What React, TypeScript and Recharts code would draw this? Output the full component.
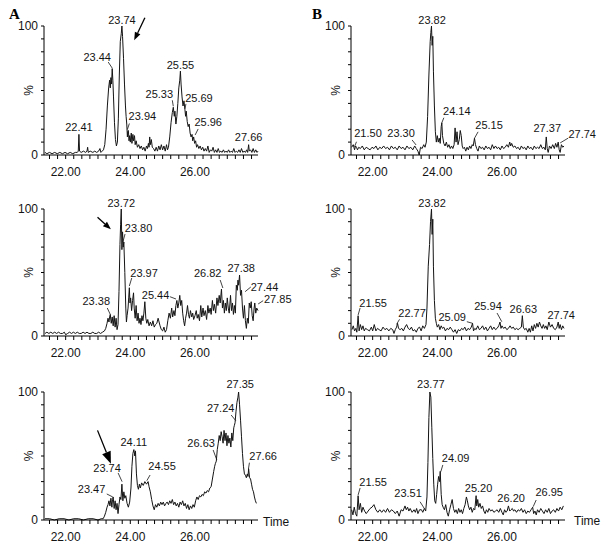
import { LineChart, Line, XAxis, YAxis, ReferenceDot } from 'recharts';

type Pt = [number, number];

const xTicks = [21.5, 21.75, 22, 22.25, 22.5, 22.75, 23, 23.25, 23.5, 23.75, 24, 24.25, 24.5, 24.75, 25, 25.25, 25.5, 25.75, 26, 26.25, 26.5, 26.75, 27, 27.25, 27.5, 27.75];
const xTickLabels = ['22.00', '24.00', '26.00'];
const yTicks = [0, 10, 20, 30, 40, 50, 60, 70, 80, 90, 100];
const yTickValues = [0, 50, 100];
const yTickTexts = ['0', '%', '100'];

// chromatogram traces: [time (min), relative intensity %]
const traceA1: Pt[] = [
  [21.36, 2], [21.42, 1], [21.5, 2], [21.58, 1], [21.66, 2], [21.74, 1], [21.82, 2], [21.9, 1], [21.98, 2], [22.06, 1], [22.14, 2], [22.22, 1], [22.3, 2], [22.36, 2], [22.39, 3], [22.41, 16], [22.43, 3], [22.48, 2], [22.55, 3], [22.62, 2], [22.66, 3], [22.68, 6], [22.7, 2], [22.76, 3], [22.84, 2], [22.9, 3], [22.96, 2], [23.02, 3], [23.06, 5], [23.09, 2], [23.13, 3], [23.17, 4], [23.21, 8], [23.25, 20], [23.29, 38], [23.33, 52], [23.36, 58], [23.38, 52], [23.4, 60], [23.42, 55], [23.44, 67], [23.46, 58], [23.48, 45], [23.51, 25], [23.54, 12], [23.57, 7], [23.6, 10], [23.63, 28], [23.66, 62], [23.69, 88], [23.72, 94], [23.74, 100], [23.76, 92], [23.79, 75], [23.82, 55], [23.85, 38], [23.87, 30], [23.89, 24], [23.91, 14], [23.92, 18], [23.94, 19], [23.96, 11], [23.98, 15], [24.0, 10], [24.03, 17], [24.05, 9], [24.08, 16], [24.1, 11], [24.13, 15], [24.15, 8], [24.18, 11], [24.22, 6], [24.26, 8], [24.3, 5], [24.34, 7], [24.38, 4], [24.42, 6], [24.46, 3], [24.5, 7], [24.53, 5], [24.56, 9], [24.58, 6], [24.6, 14], [24.62, 8], [24.65, 12], [24.68, 6], [24.72, 5], [24.76, 3], [24.8, 6], [24.84, 3], [24.88, 7], [24.92, 4], [24.96, 8], [25.0, 4], [25.04, 7], [25.08, 3], [25.12, 8], [25.15, 4], [25.18, 6], [25.22, 14], [25.26, 25], [25.3, 33], [25.33, 37], [25.36, 30], [25.38, 34], [25.41, 24], [25.44, 30], [25.47, 40], [25.5, 52], [25.53, 58], [25.55, 65], [25.57, 55], [25.6, 45], [25.63, 38], [25.66, 42], [25.69, 35], [25.71, 30], [25.73, 34], [25.76, 26], [25.79, 22], [25.82, 24], [25.85, 17], [25.88, 14], [25.91, 16], [25.93, 11], [25.96, 14], [25.99, 9], [26.02, 11], [26.05, 6], [26.08, 8], [26.12, 5], [26.16, 7], [26.2, 4], [26.24, 6], [26.28, 3], [26.32, 5], [26.36, 3], [26.4, 7], [26.44, 2], [26.48, 4], [26.52, 3], [26.56, 6], [26.6, 2], [26.64, 4], [26.68, 2], [26.72, 5], [26.76, 2], [26.8, 3], [26.84, 2], [26.88, 4], [26.92, 2], [26.96, 3], [27.0, 2], [27.04, 4], [27.08, 2], [27.12, 3], [27.16, 2], [27.2, 5], [27.24, 2], [27.28, 3], [27.32, 2], [27.36, 4], [27.4, 2], [27.44, 5], [27.48, 2], [27.52, 3], [27.56, 2], [27.6, 4], [27.63, 2], [27.66, 8], [27.68, 3], [27.72, 4], [27.76, 2], [27.8, 5], [27.84, 2], [27.88, 4], [27.92, 2], [27.95, 3],
];

const traceB1: Pt[] = [
  [21.35, 6], [21.4, 8], [21.44, 4], [21.47, 7], [21.5, 6], [21.53, 4], [21.57, 6], [21.62, 5], [21.68, 7], [21.74, 4], [21.8, 6], [21.86, 5], [21.92, 4], [21.98, 6], [22.04, 5], [22.1, 7], [22.16, 4], [22.22, 6], [22.28, 5], [22.34, 7], [22.4, 5], [22.46, 6], [22.52, 4], [22.58, 7], [22.64, 5], [22.7, 6], [22.76, 4], [22.82, 7], [22.88, 5], [22.94, 6], [23.0, 4], [23.06, 7], [23.12, 5], [23.18, 6], [23.24, 4], [23.3, 7], [23.35, 5], [23.4, 3], [23.44, 0], [23.48, 6], [23.53, 5], [23.58, 8], [23.62, 6], [23.66, 10], [23.7, 30], [23.74, 62], [23.78, 88], [23.8, 95], [23.82, 100], [23.84, 85], [23.86, 92], [23.88, 65], [23.91, 38], [23.94, 18], [23.97, 10], [24.0, 15], [24.03, 10], [24.06, 13], [24.09, 9], [24.12, 22], [24.14, 25], [24.16, 15], [24.2, 9], [24.24, 7], [24.28, 10], [24.32, 6], [24.36, 8], [24.4, 5], [24.44, 7], [24.48, 5], [24.52, 8], [24.55, 21], [24.58, 10], [24.61, 18], [24.64, 8], [24.68, 12], [24.71, 19], [24.74, 15], [24.77, 7], [24.8, 5], [24.84, 6], [24.88, 3], [24.92, 6], [24.96, 4], [25.0, 7], [25.04, 5], [25.08, 8], [25.11, 7], [25.15, 13], [25.18, 8], [25.22, 5], [25.26, 3], [25.3, 7], [25.35, 5], [25.4, 6], [25.45, 4], [25.5, 7], [25.55, 5], [25.6, 6], [25.65, 4], [25.7, 8], [25.75, 5], [25.8, 7], [25.85, 5], [25.9, 6], [25.95, 4], [26.0, 7], [26.05, 5], [26.1, 6], [26.15, 8], [26.2, 6], [26.24, 10], [26.27, 7], [26.3, 9], [26.35, 6], [26.4, 7], [26.45, 5], [26.5, 6], [26.55, 4], [26.6, 7], [26.65, 5], [26.7, 6], [26.75, 4], [26.8, 7], [26.85, 5], [26.9, 6], [26.95, 4], [27.0, 7], [27.05, 5], [27.1, 6], [27.15, 5], [27.2, 8], [27.25, 5], [27.3, 6], [27.34, 4], [27.37, 14], [27.4, 5], [27.43, 2], [27.47, 7], [27.52, 5], [27.57, 8], [27.62, 5], [27.66, 9], [27.7, 6], [27.74, 10], [27.77, 4], [27.8, 2], [27.84, 8], [27.88, 6], [27.92, 7],
];

const traceA2: Pt[] = [
  [21.36, 2], [21.42, 3], [21.48, 2], [21.54, 3], [21.6, 2], [21.66, 3], [21.72, 2], [21.78, 3], [21.84, 2], [21.9, 2], [21.96, 3], [22.0, 1], [22.06, 2], [22.12, 3], [22.18, 2], [22.24, 3], [22.3, 2], [22.36, 3], [22.42, 2], [22.48, 2], [22.54, 3], [22.6, 2], [22.66, 3], [22.72, 2], [22.78, 2], [22.84, 3], [22.9, 2], [22.96, 2], [23.02, 3], [23.08, 2], [23.14, 3], [23.2, 4], [23.24, 6], [23.28, 10], [23.31, 14], [23.34, 11], [23.36, 15], [23.38, 17], [23.41, 10], [23.44, 15], [23.47, 8], [23.5, 16], [23.53, 7], [23.56, 14], [23.59, 5], [23.62, 9], [23.65, 35], [23.68, 72], [23.7, 88], [23.72, 100], [23.74, 68], [23.76, 82], [23.78, 70], [23.8, 74], [23.83, 50], [23.86, 22], [23.88, 11], [23.9, 16], [23.93, 22], [23.95, 30], [23.97, 38], [23.99, 26], [24.01, 30], [24.04, 20], [24.07, 28], [24.1, 34], [24.12, 22], [24.15, 14], [24.18, 24], [24.21, 12], [24.24, 18], [24.27, 10], [24.3, 14], [24.33, 9], [24.36, 16], [24.39, 12], [24.42, 18], [24.45, 27], [24.48, 14], [24.51, 10], [24.54, 13], [24.58, 8], [24.62, 11], [24.66, 8], [24.7, 12], [24.74, 7], [24.78, 9], [24.82, 10], [24.86, 14], [24.89, 11], [24.92, 8], [24.96, 5], [25.0, 4], [25.04, 7], [25.08, 3], [25.12, 5], [25.16, 12], [25.2, 18], [25.24, 14], [25.28, 22], [25.31, 15], [25.35, 20], [25.38, 16], [25.41, 24], [25.44, 28], [25.47, 22], [25.5, 26], [25.53, 32], [25.56, 24], [25.59, 28], [25.62, 18], [25.65, 12], [25.68, 8], [25.71, 14], [25.74, 18], [25.77, 24], [25.8, 17], [25.83, 14], [25.86, 20], [25.9, 15], [25.93, 18], [25.96, 13], [26.0, 16], [26.04, 20], [26.07, 14], [26.1, 17], [26.14, 12], [26.18, 24], [26.21, 15], [26.25, 22], [26.28, 16], [26.32, 20], [26.36, 13], [26.4, 24], [26.43, 18], [26.47, 22], [26.5, 17], [26.54, 28], [26.57, 20], [26.6, 25], [26.64, 18], [26.68, 30], [26.71, 24], [26.75, 32], [26.78, 26], [26.82, 37], [26.85, 22], [26.88, 28], [26.91, 18], [26.94, 26], [26.97, 20], [27.0, 30], [27.03, 22], [27.06, 18], [27.1, 32], [27.13, 20], [27.16, 26], [27.19, 17], [27.22, 24], [27.25, 18], [27.28, 40], [27.31, 36], [27.33, 44], [27.35, 40], [27.38, 48], [27.41, 32], [27.44, 36], [27.47, 22], [27.5, 14], [27.53, 24], [27.56, 12], [27.59, 6], [27.62, 14], [27.65, 10], [27.68, 26], [27.71, 22], [27.74, 27], [27.77, 16], [27.8, 12], [27.83, 22], [27.85, 26], [27.88, 18], [27.91, 22], [27.95, 20],
];

const traceB2: Pt[] = [
  [21.36, 5], [21.4, 8], [21.44, 4], [21.48, 6], [21.51, 3], [21.55, 16], [21.58, 4], [21.62, 9], [21.66, 5], [21.7, 8], [21.74, 4], [21.78, 6], [21.84, 5], [21.9, 4], [21.96, 7], [22.0, 4], [22.05, 9], [22.1, 4], [22.15, 6], [22.2, 5], [22.26, 4], [22.32, 7], [22.38, 5], [22.44, 6], [22.5, 4], [22.56, 6], [22.62, 5], [22.66, 2], [22.7, 5], [22.74, 7], [22.77, 10], [22.8, 6], [22.85, 5], [22.9, 6], [22.95, 4], [23.0, 7], [23.05, 9], [23.1, 6], [23.15, 5], [23.2, 7], [23.25, 4], [23.3, 5], [23.35, 3], [23.4, 6], [23.45, 7], [23.5, 4], [23.55, 8], [23.6, 6], [23.65, 9], [23.68, 22], [23.72, 55], [23.76, 72], [23.79, 90], [23.82, 100], [23.84, 80], [23.86, 92], [23.88, 55], [23.91, 28], [23.94, 14], [23.97, 10], [24.0, 7], [24.04, 9], [24.08, 5], [24.12, 8], [24.16, 6], [24.2, 7], [24.25, 4], [24.3, 6], [24.35, 5], [24.4, 7], [24.45, 5], [24.5, 3], [24.55, 5], [24.6, 2], [24.65, 5], [24.7, 4], [24.75, 6], [24.8, 5], [24.85, 7], [24.9, 4], [24.95, 6], [25.0, 5], [25.05, 7], [25.09, 10], [25.12, 4], [25.16, 6], [25.2, 5], [25.25, 8], [25.3, 5], [25.35, 6], [25.4, 8], [25.45, 5], [25.5, 7], [25.55, 4], [25.6, 6], [25.65, 8], [25.7, 5], [25.75, 7], [25.8, 5], [25.85, 6], [25.9, 8], [25.94, 11], [25.97, 6], [26.0, 8], [26.05, 6], [26.1, 7], [26.15, 5], [26.2, 6], [26.25, 8], [26.3, 6], [26.35, 7], [26.4, 5], [26.45, 6], [26.5, 5], [26.55, 6], [26.6, 7], [26.63, 16], [26.66, 7], [26.7, 5], [26.75, 6], [26.8, 3], [26.84, 6], [26.88, 3], [26.92, 8], [26.96, 4], [27.0, 9], [27.04, 6], [27.08, 10], [27.12, 7], [27.16, 11], [27.2, 8], [27.24, 6], [27.28, 9], [27.32, 6], [27.36, 8], [27.4, 5], [27.45, 11], [27.5, 7], [27.55, 9], [27.6, 6], [27.65, 5], [27.7, 7], [27.74, 11], [27.77, 6], [27.8, 9], [27.84, 5], [27.88, 8], [27.92, 6],
];

const traceA3: Pt[] = [
  [21.36, 1], [21.5, 1], [21.65, 0], [21.8, 1], [21.95, 1], [22.1, 0], [22.25, 1], [22.4, 1], [22.55, 0], [22.7, 1], [22.85, 1], [23.0, 0], [23.1, 1], [23.16, 1], [23.2, 3], [23.24, 6], [23.28, 10], [23.31, 12], [23.34, 15], [23.37, 11], [23.4, 17], [23.43, 10], [23.45, 16], [23.47, 18], [23.5, 9], [23.53, 15], [23.56, 8], [23.59, 13], [23.62, 5], [23.65, 12], [23.68, 18], [23.71, 16], [23.74, 28], [23.77, 15], [23.8, 22], [23.83, 17], [23.86, 19], [23.9, 13], [23.94, 10], [23.98, 14], [24.02, 25], [24.05, 42], [24.08, 52], [24.11, 55], [24.14, 50], [24.16, 54], [24.19, 36], [24.22, 27], [24.25, 24], [24.28, 28], [24.31, 25], [24.35, 29], [24.4, 27], [24.45, 30], [24.5, 28], [24.55, 30], [24.58, 26], [24.62, 22], [24.66, 16], [24.7, 11], [24.74, 8], [24.78, 12], [24.82, 10], [24.86, 13], [24.9, 11], [24.94, 14], [24.98, 12], [25.02, 14], [25.06, 11], [25.1, 13], [25.14, 14], [25.18, 12], [25.22, 15], [25.26, 13], [25.3, 16], [25.34, 12], [25.38, 14], [25.42, 11], [25.46, 13], [25.5, 10], [25.54, 14], [25.58, 12], [25.62, 15], [25.66, 11], [25.7, 13], [25.74, 9], [25.78, 12], [25.82, 8], [25.86, 11], [25.9, 9], [25.94, 12], [25.98, 10], [26.02, 15], [26.06, 18], [26.1, 16], [26.14, 19], [26.18, 18], [26.22, 20], [26.26, 19], [26.3, 22], [26.34, 21], [26.38, 23], [26.42, 22], [26.46, 25], [26.5, 26], [26.54, 32], [26.58, 38], [26.61, 42], [26.63, 44], [26.66, 46], [26.69, 55], [26.72, 60], [26.75, 66], [26.78, 62], [26.81, 69], [26.84, 65], [26.87, 60], [26.9, 70], [26.93, 62], [26.96, 68], [26.99, 58], [27.02, 66], [27.05, 60], [27.08, 64], [27.11, 57], [27.14, 68], [27.17, 62], [27.2, 72], [27.22, 74], [27.24, 76], [27.27, 85], [27.3, 92], [27.33, 96], [27.35, 100], [27.38, 90], [27.41, 78], [27.44, 65], [27.47, 52], [27.5, 42], [27.53, 36], [27.56, 35], [27.59, 33], [27.62, 36], [27.64, 34], [27.66, 40], [27.69, 33], [27.72, 32], [27.75, 28], [27.78, 24], [27.81, 22], [27.84, 18], [27.87, 15], [27.9, 13],
];

const traceB3: Pt[] = [
  [21.35, 8], [21.39, 4], [21.43, 10], [21.47, 5], [21.51, 3], [21.55, 19], [21.58, 8], [21.62, 13], [21.66, 6], [21.7, 10], [21.75, 7], [21.8, 5], [21.86, 7], [21.92, 9], [21.98, 10], [22.04, 12], [22.1, 8], [22.16, 6], [22.22, 8], [22.28, 6], [22.34, 8], [22.4, 6], [22.46, 9], [22.52, 6], [22.58, 8], [22.64, 7], [22.7, 5], [22.76, 7], [22.82, 3], [22.88, 8], [22.94, 7], [23.0, 11], [23.04, 8], [23.08, 10], [23.12, 7], [23.16, 9], [23.22, 6], [23.28, 8], [23.32, 6], [23.36, 9], [23.4, 5], [23.45, 8], [23.51, 8], [23.55, 6], [23.6, 9], [23.64, 7], [23.68, 18], [23.71, 45], [23.74, 80], [23.77, 100], [23.8, 96], [23.83, 72], [23.86, 48], [23.89, 28], [23.92, 15], [23.95, 13], [23.98, 20], [24.01, 28], [24.04, 34], [24.07, 30], [24.09, 38], [24.12, 20], [24.15, 12], [24.18, 10], [24.22, 8], [24.26, 12], [24.3, 6], [24.34, 3], [24.38, 8], [24.42, 12], [24.46, 16], [24.5, 9], [24.54, 6], [24.58, 8], [24.62, 5], [24.66, 9], [24.7, 6], [24.74, 8], [24.78, 5], [24.82, 9], [24.86, 12], [24.9, 18], [24.93, 15], [24.96, 11], [25.0, 8], [25.04, 10], [25.08, 6], [25.12, 9], [25.16, 8], [25.2, 19], [25.22, 11], [25.25, 16], [25.28, 10], [25.32, 13], [25.36, 9], [25.4, 11], [25.44, 7], [25.48, 5], [25.52, 8], [25.56, 6], [25.6, 9], [25.65, 7], [25.7, 8], [25.75, 6], [25.8, 7], [25.85, 8], [25.9, 6], [25.95, 9], [26.0, 6], [26.04, 4], [26.08, 8], [26.12, 6], [26.16, 7], [26.2, 11], [26.24, 7], [26.28, 8], [26.32, 9], [26.36, 7], [26.4, 8], [26.45, 6], [26.5, 8], [26.55, 7], [26.6, 9], [26.65, 6], [26.7, 8], [26.75, 5], [26.8, 7], [26.85, 6], [26.9, 8], [26.95, 10], [26.98, 5], [27.02, 7], [27.06, 4], [27.1, 8], [27.15, 6], [27.2, 9], [27.25, 7], [27.3, 5], [27.35, 8], [27.4, 6], [27.45, 9], [27.5, 5], [27.55, 7], [27.6, 8], [27.65, 6], [27.7, 9], [27.75, 7], [27.8, 10], [27.85, 8], [27.9, 11],
];

// labelled retention times
const peaksA1 = ['22.41', '23.44', '23.74', '23.94', '25.33', '25.55', '25.69', '25.96', '27.66'];
const peaksB1 = ['21.50', '23.30', '23.82', '24.14', '25.15', '27.37', '27.74'];
const peaksA2 = ['23.38', '23.72', '23.80', '23.97', '25.44', '26.82', '27.38', '27.44', '27.85'];
const peaksB2 = ['21.55', '22.77', '23.82', '25.09', '25.94', '26.63', '27.74'];
const peaksA3 = ['23.47', '23.74', '24.11', '24.55', '26.63', '27.24', '27.35', '27.66'];
const peaksB3 = ['21.55', '23.51', '23.77', '24.09', '25.20', '26.20', '26.95'];

// label placement relative to the peak: text dx, dy, then optional leader x1,y1,x2,y2
const placeA1 = [[0, -3], [-15, -8, -4, -6.5, 0, -0.5], [0, -2], [14, -10, 1, -7, -1, -1], [-14, -9, -1, -7, 0, -1], [0, -2.5], [14, -8, 1, -6, 0, -1], [14.5, -11, 4.5, -8, 1.5, -2], [0, -4]];
const placeB1 = [[11.5, -10, 0, -5.5, -2, -0.5], [-13.6, -9, -2.6, -6, 1.4, -1], [0.6, -2], [15, -8, 2, -5, 0, 0], [14.6, -9.4, 3.6, -6.4, 0, 0], [1, -5], [24, -4, 10, -4, 2, 0.8]];
const placeA2 = [[-14, -9.4, -3, -6.4, 0, 0], [0, -2], [14.7, -10.3, 1.2, -8, -1, 0], [14.7, -11, 2.4, -9.7, 0, -1.7], [-21.3, -1.4, -6.8, -3.7, -0.8, -1.4], [-13.8, -12, -1.3, -9, 1.4, -1], [1.6, -3], [23, 0.4, 9.3, -3.3, 3.6, 1.4], [23, 0, 8.4, -2.3, 3.4, 1]];
const placeB2 = [[15, -9, 2, -7.7, 0, -0.7], [14.5, -6.3, 2, -4, -1, 1], [0.6, -2], [-20.4, -2.6, -5.7, -1.6, 0, 0], [-12, -12, -3, -9, 1.8, -0.3], [1, -3], [3, -3]];
const placeA3 = [[-21.6, -4.3, -6.4, -3, -0.4, 0], [-14.8, -12.5, -3.8, -11.2, 0.2, -2.5], [0, -4], [14, -11.6, 2, -6.6, -1.3, -0.9], [-14.2, -17, -2.2, -13.7, 1.5, -3.7], [-14.4, -11, -3.9, -7.7, 0.8, -2], [1.6, -4], [14.5, -8.8, 0.8, -6.1, -0.2, 0.2]];
const placeB3 = [[15, -9.7, 2, -7.7, 0, -0.7], [-13.4, -12.5, -1.4, -8, 3, -1], [1, -4], [15.4, -9.7, 2.6, -6.4, 0.6, 0.3], [2.5, -4], [2.7, -4.3], [16.5, -11.2, 3.5, -7.2, 0.5, -0.5]];

// arrow tips in data units [time, %]
const arrowA1 = [24.12, 89];
const arrowA2 = [23.4, 84];
const arrowA3 = [23.4, 44];

const FONT = '"Liberation Sans", Arial, sans-serif';
const INK = '#141414';

function XTick(props: any) {
  const { x, y, payload } = props;
  const txt = payload.value.toFixed(2);
  if (!xTickLabels.includes(txt)) return null;
  return (
    <text x={x} y={y} dy={15} textAnchor="middle" fontSize={12} fontFamily={FONT} fill={INK}>
      {txt}
    </text>
  );
}

function YTick(props: any) {
  const { x, y, payload } = props;
  const i = yTickValues.indexOf(payload.value);
  if (i < 0) return null;
  if (yTickTexts[i] === '%') {
    return (
      <text x={x - 9} y={y} dy={4} textAnchor="middle" fontSize={12} fontFamily={FONT} fill={INK} transform={`rotate(-90, ${x - 9}, ${y})`}>
        %
      </text>
    );
  }
  return (
    <text x={x} y={y} dy={4} textAnchor="end" fontSize={12} fontFamily={FONT} fill={INK}>
      {yTickTexts[i]}
    </text>
  );
}

const peakShape = (text: string, p: number[]) => (props: any) => {
  const { cx, cy } = props;
  return (
    <g>
      {p.length > 2 && <line x1={cx + p[2]} y1={cy + p[3]} x2={cx + p[4]} y2={cy + p[5]} stroke={INK} strokeWidth={0.8} />}
      <text x={cx + p[0]} y={cy + p[1]} textAnchor="middle" fontSize={11} fontFamily={FONT} fill={INK}>
        {text}
      </text>
    </g>
  );
};

const arrowShape = (ox: number, oy: number, head: number) => (props: any) => {
  const { cx, cy } = props;
  const len = Math.hypot(ox, oy);
  const ux = -ox / len;
  const uy = -oy / len;
  const bx = cx - ux * head;
  const by = cy - uy * head;
  const w = head * 0.38;
  return (
    <g>
      <line x1={cx + ox} y1={cy + oy} x2={bx} y2={by} stroke="#000" strokeWidth={1.3} />
      <polygon points={`${cx},${cy} ${bx - uy * w},${by + ux * w} ${bx + uy * w},${by - ux * w}`} fill="#000" />
    </g>
  );
};

function valueAt(trace: Pt[], t: number) {
  let best = trace[0];
  for (const p of trace) if (Math.abs(p[0] - t) < Math.abs(best[0] - t)) best = p;
  return best[1];
}

type PanelProps = {
  trace: Pt[];
  peaks: string[];
  place: number[][];
  arrow?: number[];
  arrowOff?: number[];
  left: number;
  top: number;
  plotH: number;
};

function Panel({ trace, peaks, place, arrow, arrowOff, left, top, plotH }: PanelProps) {
  const data = trace.map(([t, v]) => ({ t, v }));
  return (
    <div style={{ position: 'absolute', left, top }}>
      <LineChart width={300} height={20 + plotH + 30} data={data} margin={{ top: 20, right: 42, bottom: 0, left: 0 }}>
        <XAxis
          dataKey="t"
          type="number"
          domain={[21.33, 27.95]}
          ticks={xTicks}
          interval={0}
          tick={XTick}
          tickSize={4}
          tickMargin={2}
          height={30}
          stroke="#000"
        />
        <YAxis
          type="number"
          domain={[0, 100]}
          ticks={yTicks}
          interval={0}
          tick={YTick}
          tickSize={3}
          tickMargin={3}
          width={44}
          stroke="#000"
        />
        <Line type="linear" dataKey="v" stroke={INK} strokeWidth={1} dot={false} isAnimationActive={false} />
        {peaks.map((lab, i) => {
          const t = parseFloat(lab);
          return <ReferenceDot key={lab} x={t} y={valueAt(trace, t)} r={0} shape={peakShape(lab, place[i])} />;
        })}
        {arrow && arrowOff && (
          <ReferenceDot x={arrow[0]} y={arrow[1]} r={0} shape={arrowShape(arrowOff[0], arrowOff[1], arrowOff[2])} />
        )}
      </LineChart>
    </div>
  );
}

const headStyle = { position: 'absolute' as const, fontFamily: '"Liberation Serif", "Times New Roman", serif', fontWeight: 700, fontSize: 15, lineHeight: '15px' };
const timeStyle = { position: 'absolute' as const, fontFamily: FONT, fontSize: 12, lineHeight: '12px', color: INK };

export default function App() {
  return (
    <div style={{ position: 'absolute', left: 0, top: 0, width: 608, height: 550, background: '#fff', overflow: 'hidden' }}>
      <div style={{ ...headStyle, left: 9, top: 7 }}>A</div>
      <div style={{ ...headStyle, left: 312, top: 7 }}>B</div>
      <Panel trace={traceA1} peaks={peaksA1} place={placeA1} arrow={arrowA1} arrowOff={[10.7, -22.4, 8]} left={0} top={6} plotH={129} />
      <Panel trace={traceB1} peaks={peaksB1} place={placeB1} left={307} top={6} plotH={129} />
      <Panel trace={traceA2} peaks={peaksA2} place={placeA2} arrow={arrowA2} arrowOff={[-13.4, -12, 8]} left={0} top={189} plotH={127} />
      <Panel trace={traceB2} peaks={peaksB2} place={placeB2} left={307} top={189} plotH={127} />
      <Panel trace={traceA3} peaks={peaksA3} place={placeA3} arrow={arrowA3} arrowOff={[-13.4, -33.3, 12]} left={0} top={372} plotH={128} />
      <Panel trace={traceB3} peaks={peaksB3} place={placeB3} left={307} top={372} plotH={128} />
      <div style={{ ...timeStyle, left: 263, top: 516 }}>Time</div>
      <div style={{ ...timeStyle, left: 574, top: 515 }}>Time</div>
    </div>
  );
}
